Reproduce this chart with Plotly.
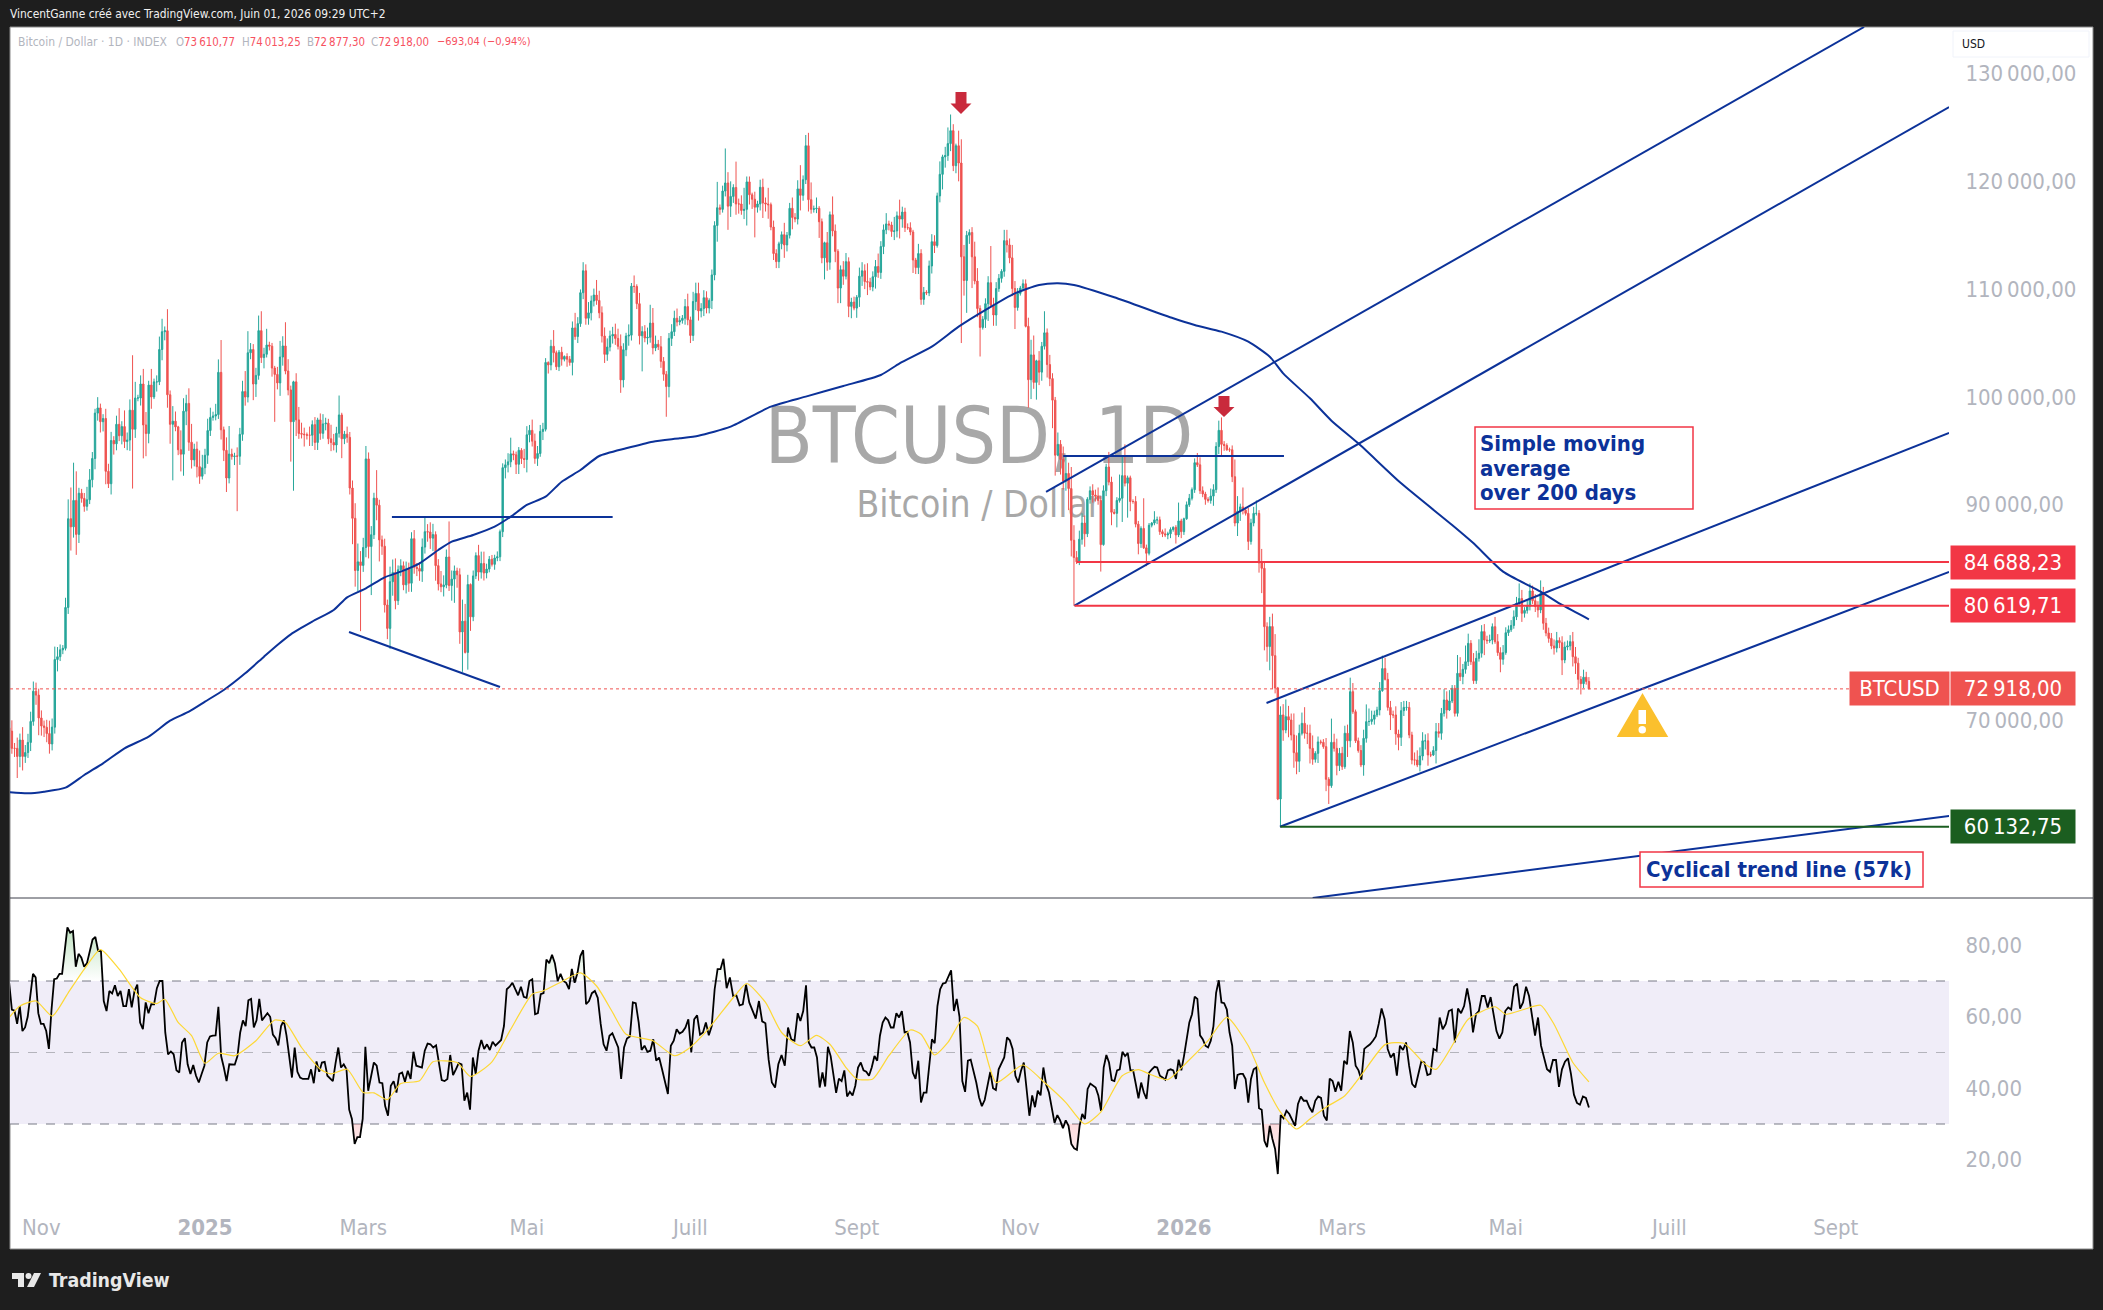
import numpy as np
import pandas as pd
import plotly.graph_objects as go

# ---------- data ----------
first_day = "2024-10-20"
close_usd = [
 # 2024-10 (from the 20th)
 69000,67400,67400,66650,68170,66650,67010,67950,69900,72700,72340,70220,
 # 2024-11
 69480,69350,68770,67810,69370,75640,75900,76540,76680,80470,88700,87950,90400,87250,91070,90590,89850,90460,92310,94290,98500,98980,97700,98000,93100,91950,95960,95650,97460,96400,
 # 2024-12
 97250,95860,96000,98770,97000,99900,99900,101200,97400,96600,101100,100000,101400,101400,104400,106050,106140,100200,97460,97750,97220,95100,94690,98680,99400,95800,94160,95160,93530,92640,93430,
 # 2025-01
 94590,96880,98100,98230,98360,102280,96950,95050,92480,94700,94480,94520,94500,96530,100500,99990,104100,104400,101200,102000,106150,103650,103960,104820,104710,102680,102090,101300,103700,104730,102400,
 # 2025-02
 100650,97700,101400,97870,96610,96550,96500,96450,96450,97430,95780,97870,96620,97500,97570,96120,95770,95540,96630,98330,96120,96550,96250,91550,88740,83900,84700,84370,
 # 2025-03
 86030,94250,86120,87220,90610,89960,86740,86150,80700,78530,82860,83720,81100,83970,84340,82570,84030,82720,86850,84200,84080,83840,86070,87500,87470,86900,87230,84350,82650,82390,82550,
 # 2025-04
 85150,82500,83100,83860,83500,78200,79200,76300,82600,79600,83400,85280,83750,84550,83670,84030,84940,84470,85060,85170,87500,93440,93700,93980,94720,94630,93750,95050,94280,94200,
 # 2025-05
 96490,96900,95900,94300,94750,96800,97000,103200,102970,104700,104100,102800,104150,103500,103750,103500,103200,106400,105600,106800,109670,111700,107300,107800,108900,109450,108950,107800,105650,103950,104630,
 # 2025-06
 105650,105800,105430,104700,101580,104380,105650,105730,110270,110250,108650,105670,106060,105470,105530,106850,104550,104890,104650,103300,102100,100960,105430,106050,107300,106950,107100,107300,108380,107150,
 # 2025-07
 105700,108850,109600,107980,108200,109200,108250,108950,111320,115900,117550,117400,119100,119850,117700,118600,119430,117900,117900,117300,117400,119950,118750,118340,117600,117900,119450,118000,117900,117830,115760,
 # 2025-08
 113300,112550,114200,115050,114100,115000,117500,116650,116500,119300,118700,120150,123300,118300,117400,117450,117500,116250,112900,114300,112500,116900,115400,113500,110100,111800,111200,112550,108400,108800,108240,
 # 2025-09
 109250,111200,111700,110700,110650,110200,111150,112100,111550,113950,115500,116050,115950,115350,115400,116800,116500,117150,115700,115700,115300,112700,112000,113300,109050,109700,109650,112150,114400,114050,
 # 2025-10
 118650,120650,122270,122400,123500,124700,121450,123300,121700,113000,110800,115000,115250,113000,110750,108200,106450,107200,108650,110600,108500,107600,110050,111000,111650,114500,114100,112900,110050,108300,109600,
 # 2025-11
 110100,110500,106550,101600,103900,101350,103350,102300,104700,105950,103000,101700,99700,94600,95600,94200,92200,92900,91500,86700,85100,84700,86800,88300,87300,90500,91300,90900,90800,90400,
 # 2025-12
 86300,91300,93500,92100,89300,89200,90400,90600,92700,92000,92500,90300,90300,88200,86400,87800,86000,85500,88100,88300,88600,88600,87500,87300,87200,87300,87700,87900,87200,88500,87500,
 # 2026-01
 88700,90000,90600,91400,93900,93700,91300,91000,90500,90400,90800,91400,95400,96900,95600,95500,95100,95100,92600,88300,89400,89800,89500,89200,86600,88300,89200,89200,84600,84100,78690,
 # 2026-02
 76840,78700,76000,73000,62700,70500,69100,70340,70030,68640,67000,66200,68800,69720,68800,68800,67400,66380,66940,68000,67960,67560,64530,63940,67960,67400,65800,66940,
 # 2026-03
 65700,68800,68100,72660,70800,68100,67200,65860,68330,69880,69900,70100,70500,70960,72750,74800,73800,71200,70500,70500,68730,68420,70900,71200,71200,68640,66320,66320,65860,66690,68100,
 # 2026-04
 68100,66790,66790,67200,68950,68800,70650,71890,70960,71800,72970,70650,74360,74050,74730,75440,77140,75440,73680,75750,76220,78230,77450,77390,77450,78690,77300,76280,75660,76280,
 # 2026-05
 78130,78400,78800,79600,80850,81300,79930,80200,80600,82000,81100,80550,80240,81780,79000,78100,77600,76900,76700,77400,77200,75600,76800,76900,77300,75900,75300,73800,73400,74000,73610.77,
 # 2026-06
 72918,
]
first_open_usd = 69300
# upper wick of each candle, in hundreds of dollars
wick_up = [
 7,10,5,10,6,12,7,8,9,9,8,6,
 7,5,7,12,8,12,9,5,3,9,18,29,35,27,5,4,5,12,10,6,4,10,4,4,9,7,8,4,8,15,
 5,15,7,10,51,15,3,8,14,12,4,15,3,6,12,12,4,20,4,14,9,1,18,12,8,14,17,5,7,15,12,
 6,11,9,4,10,12,30,3,12,26,5,3,8,6,10,19,20,6,5,7,14,18,6,15,3,3,2,7,15,9,22,
 11,4,1,8,12,10,6,2,8,4,7,2,6,9,5,4,13,8,6,18,2,3,7,5,7,14,17,10,
 9,12,6,8,5,26,5,4,7,5,14,12,13,4,6,4,7,6,6,8,4,6,8,13,7,9,10,3,6,12,9,
 7,33,8,5,3,6,20,16,9,1,5,3,10,11,11,5,3,4,3,5,2,4,5,8,15,3,3,3,2,9,
 8,5,10,7,7,6,6,4,1,6,15,2,2,5,1,3,3,6,14,6,3,8,6,10,5,6,14,9,6,8,8,
 5,7,10,9,11,6,3,10,3,10,2,10,5,6,9,17,14,8,4,10,4,3,5,7,7,9,4,3,7,12,
 3,9,10,10,5,7,6,2,5,4,24,3,5,32,10,14,3,24,5,8,20,5,5,2,7,3,7,8,5,15,2,
 6,4,2,3,11,3,5,10,4,8,22,4,10,12,16,3,10,2,3,1,10,3,17,6,2,4,8,8,4,4,5,
 2,8,8,6,17,4,5,6,12,5,5,10,3,3,13,4,15,5,4,4,5,2,2,9,4,5,2,5,7,6,
 3,12,2,8,15,15,6,2,14,22,11,4,3,5,14,12,3,3,5,6,34,7,6,4,2,10,10,6,12,7,5,
 2,4,4,8,14,18,1,9,4,20,4,9,5,3,11,4,12,16,10,20,14,6,8,9,7,2,4,6,5,8,
 4,5,3,14,5,3,3,22,19,29,2,2,2,5,3,2,28,3,2,1,8,3,3,2,5,2,2,1,2,17,2,
 1,3,4,2,4,9,7,4,2,2,7,5,4,9,12,3,2,2,4,16,14,3,18,3,5,4,6,12,3,13,6,
 4,9,12,20,1,8,10,16,10,6,20,16,8,10,15,8,8,12,2,5,2,3,8,2,22,8,9,5,
 6,7,8,13,8,2,3,5,8,16,12,8,4,3,8,12,10,6,6,4,8,4,8,6,6,5,3,7,9,8,8,
 6,7,3,4,8,8,5,10,8,10,3,3,17,15,5,15,9,3,8,7,13,6,7,4,5,3,9,7,5,7,
 5,4,5,6,6,14,8,3,5,7,5,6,5,12,6,5,5,5,6,8,3,6,5,5,6,9,9,5,3,7,5,
 4.02,
]
# lower wick of each candle, in hundreds of dollars
wick_down = [
 6,5,8,20,10,13,6,5,8,4,9,16,
 9,9,8,9,6,6,11,4,4,2,6,22,10,19,8,4,5,4,4,7,10,7,10,9,12,4,10,10,6,5,
 8,6,8,10,55,8,3,7,31,21,9,11,2,9,3,10,8,12,18,52,4,5,16,20,13,8,8,6,10,7,3,
 6,8,5,3,4,4,9,10,13,5,3,8,51,8,6,8,5,6,15,12,4,5,10,3,4,8,44,6,12,8,3,
 5,37,64,15,5,4,11,4,10,10,7,7,6,5,6,5,8,5,7,4,18,5,5,6,24,15,19,61,
 6,9,11,45,4,14,20,8,7,10,19,13,8,4,6,5,8,8,8,6,7,9,10,6,9,10,12,14,6,5,9,
 3,5,14,22,12,11,37,1,16,13,4,3,8,6,7,5,3,2,5,3,4,5,10,7,5,5,9,9,5,8,
 12,7,5,5,7,3,8,2,8,5,9,3,4,6,2,7,3,12,3,6,3,6,6,6,7,5,4,5,6,8,6,
 4,7,6,3,12,7,6,9,5,6,5,8,33,4,6,5,6,3,3,6,6,28,10,7,4,4,3,3,6,5,
 7,5,8,9,6,7,5,5,8,5,15,5,3,5,22,10,6,10,9,4,8,15,9,9,28,5,6,14,7,13,3,
 6,6,6,5,12,6,3,11,3,5,14,5,4,11,4,3,4,15,5,20,8,7,5,10,14,14,8,3,10,11,2,
 9,9,9,7,12,3,4,11,5,6,7,4,5,5,8,6,18,8,4,2,3,12,6,6,5,5,2,3,7,7,
 2,6,14,10,5,7,5,7,17,80,14,30,8,29,3,8,27,2,8,16,2,10,10,3,4,5,7,5,7,20,3,
 2,3,1,26,18,6,16,12,8,3,12,7,26,19,1,14,8,9,20,15,44.8,2,3,5,12,3,4,7,5,4,
 25,1,5,3,12,1,13,2,22,3,32,9,2,3,10,4,1,12,2,2,2,4,3,3,2,4,4,2,8,2,6,
 3,1,2,2,3,2,3,3,5,2,3,9,3,7,10,5,1,2,5,3,12,9,4,2,8,3,3,2,9,23,22,
 14,22,31,5,1,25.67,10,3,16,5,14,12,10,2,5,10,14,5,3,9,2,2,11,17,2,3,9,5,
 3,2,15,6,2,2,2,2,10,4,4,3,5,2,5,1,1,3,14,3,10,12,8,5,3,3,4,5,2,6,4,
 8,10,2,1,12,4,6,3,8,1,2,3,3,4,7,4,4,3,3,3,3,4,14,3,2,4,2,3,12,5,
 2,3,2,3,3,3,8,4,3,4,3,5,7,3,6,3,4,3,6,4,5,14,3,3,4,9,10,8,10,4,3,
 0.41,
]

# 200-day simple moving average, read every few days (days counted from 2025-01-01)
sma_days = [-73,-66,-60,-52,-45,-38,-30,-21,-13,-6,0,7,15,22,27,32,40,48,53,60,67,73,80,87,92,100,108,114,120,127,133,140,147,157,167,177,184,
            196,211,224,238,252,259,271,281,292,302,311,318,324,339,361,369,379,389,397,402,412,420,430,446,465,473,484,498,506,516]
sma_usd = [63323,63230,63385,63756,64931,66014,67405,68487,69971,70806,71733,72816,74362,75908,76990,77979,79154,80236,81411,82246,83267,83792,84565,85802,86575,87193,87966,88894,89976,90749,92140,93223,94521,95233,95851,96160,96408,
           97244,99099,100027,101016,102037,103119,104665,106520,108220,109612,110385,110539,110385,109241,107293,106675,106056,105128,103737,102191,99872,97800,95696,91986,88121,86420,83792,81937,80700,79371]

# RSI, day by day, in two stretches
rsi_a = [69.5,62,61.7,58,63,56,57,60,66,72,71,61,58,58,56,51,62,70.5,70.7,72,72,78,85,83.5,84,74,77.6,76.5,74,75,78,81.6,82.3,78.4,78.4,64.4,61.6,67.2,66.5,68.8,65.8,67.2,63,63,67.7,62.6,67.2,69,58.4,56.5,64,61,63.5,63.5,68,70,70,55.6,49.5,50.3,49.5,45,44.4,52.8,54,46.7,44,46.5,43.5,41.6,44,46.3,52.8,54.5,54.7,54.8,62.8,49,45.8,42,46.7,46.6,46.6,49,55.6,59,57.4,64.6,65,57,59,65,59,60,61,60,55,54,52,57.4,59,54.7,48,43,51.4,44.6,43,42.6,42.6,42.6,45.3,41.4,47.5,44.6,47.2,47.4,43.5,42.6,42,47,51.4,45.8,46.7,45.3,34,31.4,24.4,26.3,26.3,31.4,51.6,39.3,43,47.2,46.3,41.6,41.4,35,32.3,40.7,42,38.8,44,44.4,41.8,44.9,42.6,50.2,46.3,46,45.8,50.5,52.5,52.3,51.4,52,47.2,42.3,42,42.6,49.3,43.7,45.3,47,46.7,36.5,38.8,34,48.6,44,50.5,53.5,51,52.3,50.7,53,51.9,52.8,53.5,57.4,67.7,68.4,69.5,67.7,66,68.4,65.6,65.3,70,70.5,60.7,61,66.3,66.6,76,75,77.3,75,70,72,70,69.5,67.7,73.4,69.5,72.3,77,78.6,63.5,64.4,66.6,67.2,65.3,58,52.3,50.5,54.7,55.4,53.3,51.4,42.6,51.4,53.9,54.5,64,63.8,58.4,50.7,51.9,50.2,50.5,53.7,47.7,48.6,45.3,41.6,38.4,51.9,53.3,56.5,55.3,55.8,57,59.3,50,59.3,60.4,55,55.6,58.4,54.8,57.4,67.7,73.3,73.3,76.2,68,71,65.8,66,63.2,63.5,69,64,62,59.5,64.4,58.7,58.2,48,41.6,40.2,46.7,49.3,46.3,57,53.7,53.3,61]
rsi_b = [58.8,61.6,68.8,52.8,51.4,51.4,48.6,40.2,44.4,40.5,51.6,49,43.5,38.7,42.7,42,45,37.7,39,38,40.7,45.8,47.2,45,44.6,43.5,45.8,49,47.7,54.7,58.4,59.8,59,57,57,61,59.8,61.6,55.6,55.8,52.8,44.4,42.6,47.7,36,38.8,38.8,47.2,53.7,52.6,63,67.7,69.3,69.5,71.4,73,61.6,65,60,42,39,47.7,48,44.9,41.6,37.4,35,36.7,40.7,44.6,40,39.5,45.3,47.2,48.6,54.2,53.4,51,43.5,41.6,44.9,47.2,40.2,32.3,38,34.7,39.3,38,45.8,41,38.8,34,30.3,32.5,31,28.8,31,29.5,24.4,23.2,22.8,29.5,32.8,31.4,39.8,41.3,40.7,40.2,38,33.7,45.8,49.3,47.2,42.3,42,45,45.3,50.2,49,49.8,45,45,41.2,37.2,41.6,38.8,37,44.4,45.3,46,45.8,43.5,43,42.4,45,45.3,45,42.6,48,45,49,54.2,58.4,60.7,65.6,65,54.8,53.7,51.9,51.4,53.3,57.4,66.7,70.2,64,63.8,62,55.6,51.9,39.8,43.7,44,44,42.6,36,42.6,45.3,45.8,34.4,34,25.3,23.5,29.5,25.8,23,16,32.5,31.6,33.7,32.8,31,29.5,35.6,37.7,36.5,36.5,34.6,33.3,36.5,37.7,37.3,32.3,31,42.7,42,39,41.8,39.3,47.7,46.7,56,52.8,46.3,45,42.4,51,51.7,52.3,53.3,54.5,58,62.3,59.3,51,48.6,49.8,43.5,51.9,50.7,52.8,46.3,41.2,40.2,43.5,47.5,47.2,43.7,44,51,50.5,59.8,56.5,58,61.6,62,52.8,62.3,61,63,67.9,63.5,55.6,60.7,61.6,65.8,65.8,62.6,65.5,60.2,56,53.9,55.6,61.6,62.6,62,68.4,69.3,62.3,64,68.4,65.8,59.8,54.7,59.8,51.9,48.6,45.3,44.6,47.9,47.9,40.4,45.3,47.4,48.4,44,38.2,35.9,35.4,37.7,37.3,34.6]
# turning points of the RSI and the day each one falls on (days from 2025-01-01)
rsi_a_marks = {85: -51.3, 62.8: 5, 24.4: 55.8, 51.6: 59.8, 78.6: 141, 76.2: 193.3}
rsi_b_marks = {68.8: 224.1, 73: 278.2, 22.8: 325.1, 70.2: 378, 16: 400, 62.3: 438.7, 67.9: 470.6, 68.4: 488.1}
# moving average of the RSI, read every few days (days counted from 2025-01-01)
rsi_ma_days = [-73,-69,-63,-57,-51,-45,-39,-32,-24,-18,-15,-10,-5,0,5,11,19,26,30,36,43,47,53,59,63,68,73,80,85,94,99,107,114,122,126,133,140,146,152,157,167,175,180,187,198,202,209,215,222,228,233,239,243,249,255,263,267,272,277,283,288,295,305,313,321,328,334,342,348,353,359,366,374,381,389,395,401,407,412,418,425,431,440,447,455,459,465,471,481,485,492,498,503,510,516]
rsi_ma = [59.8,63,64.4,60.2,66.7,73.3,78.8,73.3,65.3,63.7,64.9,58.4,54.7,47,49.8,49.1,53.3,59.1,58.4,51.4,45.3,44,45.3,38.8,38.7,36.8,41.3,42.1,47.4,47.2,43.3,47.4,56.5,66.3,67.2,69.8,72.3,68.6,61.2,55.1,53.3,49.1,50.9,56,66.3,69.3,64,55.6,51.9,54.8,52.3,45.8,42.6,42.6,49.1,56.3,55.1,49.3,52.8,59.8,57.4,41.6,46.5,41.6,36,30,33.3,43.5,45.2,43.7,42.4,47.2,53.3,59.8,51.9,41.6,33.3,28.6,31.4,34.7,37.9,43.5,52.2,52.6,46.7,45.3,51.9,59.3,62.8,60.7,62.1,63.2,57.9,47.2,41.8]

# hand-drawn levels and trend lines
level_prices = [84688.23, 80619.71, 60132.75]
level_start_days = [325, 324.2, 401]
last_price = 72918.00
wedge_low_days, wedge_low_usd = [53.7, 110], [78194, 73092]
neck_a_days, neck_a_usd = [69.7, 152], [88862, 88862]
neck_b_days, neck_b_usd = [320, 402.3], [94521, 94521]
chan1_up_days, chan1_up_usd = [313.6, 618.6], [91182, 134317]
chan1_lo_days, chan1_lo_usd = [324.2, 650.3], [80634, 126896]
chan2_up_days, chan2_up_usd = [395.8, 650.3], [71608, 96655]
chan2_lo_days, chan2_lo_usd = [400.8, 650.3], [60132, 83760]
cyclical_days, cyclical_usd = [413, 650.3], [53519, 61126]

price_ticks = [130000, 120000, 110000, 100000, 90000, 70000]
price_tick_text = ["130\u2009000,00", "120\u2009000,00", "110\u2009000,00", "100\u2009000,00", "90\u2009000,00", "70\u2009000,00"]
rsi_ticks = [80, 60, 40, 20]
rsi_tick_text = ["80,00", "60,00", "40,00", "20,00"]
time_ticks = ["2024-11-01", "2025-01-01", "2025-03-01", "2025-05-01", "2025-07-01", "2025-09-01", "2025-11-01", "2026-01-01", "2026-03-01", "2026-05-01", "2026-07-01", "2026-09-01"]
time_tick_text = ["Nov", "<b>2025</b>", "Mars", "Mai", "Juill", "Sept", "Nov", "<b>2026</b>", "Mars", "Mai", "Juill", "Sept"]

# ---------- derived ----------
assert len(close_usd) == 590 and len(wick_up) == 590 and len(wick_down) == 590, (len(close_usd), len(wick_up), len(wick_down))
assert len(sma_days) == len(sma_usd) and len(rsi_ma_days) == len(rsi_ma), (len(sma_days), len(sma_usd), len(rsi_ma_days), len(rsi_ma))

BASE = pd.Timestamp("2025-01-01")
def day(values):
    return [BASE + pd.Timedelta(days=float(v)) for v in values]

dates = pd.date_range(first_day, periods=len(close_usd), freq="D")
close_arr = np.array(close_usd, float)
open_arr = np.r_[first_open_usd, close_arr[:-1]]
high_arr = np.maximum(open_arr, close_arr) + np.array(wick_up, float) * 100
low_arr = np.minimum(open_arr, close_arr) - np.array(wick_down, float) * 100

def rsi_positions(values, marks, first, last):
    idx = [0] + [values.index(v) for v in marks] + [len(values) - 1]
    when = [first] + list(marks.values()) + [last]
    return np.interp(np.arange(len(values)), idx, when)

rsi_days = np.r_[rsi_positions(rsi_a, rsi_a_marks, -73, 221), rsi_positions(rsi_b, rsi_b_marks, 222, 516)]
rsi_dates = day(rsi_days)
rsi_all = np.array(rsi_a + rsi_b, float)

# ---------- page geometry ----------
W, H = 2103, 1310
L, R, T, B = 10, 1949, 27, 1205
FONT = "DejaVu Sans Condensed, DejaVu Sans, sans-serif"
def px(x): return (x - L) / (R - L)
def py(y): return (B - y) / (B - T)

BLUE = "#0C3299"; RED = "#F23645"; GREEN = "#1B5E20"; CANDLE_UP = "#26A69A"; CANDLE_DOWN = "#EF5350"
x_range = day([-72.7, 650.26])
y_range = [53519, 134317]
rsi_range = [7.34, 92.94]

fig = go.Figure()

# watermark sits on the base axes so the candles on the overlay axes cover it
fig.add_trace(go.Scatter(x=day([288.6]), y=[95726], mode="text", text=["BTCUSD, 1D"], textposition="middle center",
                         textfont=dict(family=FONT, size=78, color="#A8A8A8"), hoverinfo="skip", showlegend=False, xaxis="x", yaxis="y"))
fig.add_trace(go.Scatter(x=day([288.6]), y=[89700], mode="text", text=["Bitcoin / Dollar"], textposition="middle center",
                         textfont=dict(family=FONT, size=37, color="#A8A8A8"), hoverinfo="skip", showlegend=False, xaxis="x", yaxis="y"))

fig.add_trace(go.Candlestick(x=dates, open=open_arr, high=high_arr, low=low_arr, close=close_arr,
                             increasing=dict(line=dict(color=CANDLE_UP, width=1), fillcolor=CANDLE_UP),
                             decreasing=dict(line=dict(color=CANDLE_DOWN, width=1), fillcolor=CANDLE_DOWN),
                             whiskerwidth=0, hoverinfo="skip", showlegend=False, xaxis="x", yaxis="y3"))

def line(xs, ys, color=BLUE, width=2, dash="solid", yaxis="y3", smooth=False):
    style = dict(color=color, width=width, dash=dash)
    if smooth:
        style.update(shape="spline", smoothing=0.6)
    fig.add_trace(go.Scatter(x=xs, y=ys, mode="lines", line=style,
                             hoverinfo="skip", showlegend=False, xaxis="x", yaxis=yaxis))

line(day(sma_days), sma_usd, smooth=True)
for d, u in [(wedge_low_days, wedge_low_usd), (neck_a_days, neck_a_usd), (neck_b_days, neck_b_usd),
             (chan1_up_days, chan1_up_usd), (chan1_lo_days, chan1_lo_usd),
             (chan2_up_days, chan2_up_usd), (chan2_lo_days, chan2_lo_usd), (cyclical_days, cyclical_usd)]:
    line(day(d), u)
for price, start, col in zip(level_prices, level_start_days, [RED, RED, GREEN]):
    line(day([start, 650.26]), [price, price], color=col)
line(x_range, [last_price, last_price], color=CANDLE_DOWN, width=1, dash="dot")

# RSI pane
fig.add_trace(go.Scatter(x=rsi_dates, y=[70] * len(rsi_all), mode="lines", line=dict(width=0), hoverinfo="skip", showlegend=False, xaxis="x", yaxis="y4"))
fig.add_trace(go.Scatter(x=rsi_dates, y=np.maximum(rsi_all, 70), mode="lines", line=dict(width=0), fill="tonexty",
                         fillgradient=dict(type="vertical", start=70, stop=85, colorscale=[[0, "rgba(76,175,80,0)"], [1, "rgba(76,175,80,0.35)"]]),
                         hoverinfo="skip", showlegend=False, xaxis="x", yaxis="y4"))
fig.add_trace(go.Scatter(x=rsi_dates, y=[30] * len(rsi_all), mode="lines", line=dict(width=0), hoverinfo="skip", showlegend=False, xaxis="x", yaxis="y4"))
fig.add_trace(go.Scatter(x=rsi_dates, y=np.minimum(rsi_all, 30), mode="lines", line=dict(width=0), fill="tonexty",
                         fillgradient=dict(type="vertical", start=30, stop=16, colorscale=[[0, "rgba(242,54,69,0.18)"], [1, "rgba(242,54,69,0.02)"]]),
                         hoverinfo="skip", showlegend=False, xaxis="x", yaxis="y4"))
line(rsi_dates, rsi_all, color="#000000", width=1.8, yaxis="y4")
line(day(rsi_ma_days), rsi_ma, color="#FDD835", width=1.2, yaxis="y4", smooth=True)

# ---------- shapes ----------
def rect(x0, y0, x1, y1, fill, line_color=None, lw=0, layer="above"):
    return dict(type="rect", xref="paper", yref="paper", x0=px(x0), x1=px(x1), y0=py(y0), y1=py(y1),
                fillcolor=fill, line=dict(color=line_color or fill, width=lw), layer=layer)
def path(points, fill, line_color=None, lw=0, layer="above"):
    d = "M " + " L ".join(f"{px(a):.6f},{py(b):.6f}" for a, b in points) + " Z"
    return dict(type="path", xref="paper", yref="paper", path=d, fillcolor=fill,
                line=dict(color=line_color or fill, width=lw), layer=layer)
def down_arrow(cx, top, bottom):
    neck = bottom - (bottom - top) * 0.48
    return path([(cx - 5.5, top), (cx + 5.5, top), (cx + 5.5, neck), (cx + 10.5, neck), (cx, bottom), (cx - 10.5, neck), (cx - 5.5, neck)], "#C92A3C")

shapes = [
    rect(10, 27, 2093, 1249, "#FFFFFF", "#8A8A8A", 1, layer="below"),
    dict(type="rect", xref="paper", yref="y4", x0=0, x1=1, y0=30, y1=70, fillcolor="#F0EDF8", line=dict(width=0), layer="below"),
    dict(type="line", xref="paper", yref="y4", x0=0, x1=1, y0=70, y1=70, line=dict(color="#787B86", width=1, dash="dash"), layer="below"),
    dict(type="line", xref="paper", yref="y4", x0=0, x1=1, y0=50, y1=50, line=dict(color="#B4B4BC", width=1, dash="dash"), layer="below"),
    dict(type="line", xref="paper", yref="y4", x0=0, x1=1, y0=30, y1=30, line=dict(color="#787B86", width=1, dash="dash"), layer="below"),
    dict(type="line", xref="paper", yref="paper", x0=px(10), x1=px(2093), y0=py(898), y1=py(898), line=dict(color="#3C3F4A", width=1)),
    down_arrow(961, 92, 114),
    down_arrow(1224, 396, 417),
    rect(1475, 427, 1693, 509, "rgba(255,255,255,0)", RED, 1.5),
    rect(1640, 852, 1923, 887, "#FFFFFF", RED, 1.5),
    # warning sign
    path([(1642.5, 699), (1663, 734), (1622, 734)], "#FBC02D", "#FBC02D", 6),
    rect(1638.5, 710, 1646, 724, "#FFFFFF"),
    dict(type="circle", xref="paper", yref="paper", x0=px(1638.5), x1=px(1646), y0=py(726), y1=py(733.5), fillcolor="#FFFFFF", line=dict(width=0)),
    # "USD" pill
    rect(1953, 31, 2089, 57, "#FFFFFF", "#F0F3FA", 1),
    # TradingView mark
    path([(12, 1273), (24, 1273), (24, 1287), (18, 1287), (18, 1279), (12, 1279)], "#E8E8E8"),
    dict(type="circle", xref="paper", yref="paper", x0=px(25.5), x1=px(31.5), y0=py(1273), y1=py(1279), fillcolor="#E8E8E8", line=dict(width=0)),
    path([(34, 1273), (41, 1273), (34, 1287), (27, 1287)], "#E8E8E8"),
]

# ---------- text ----------
def note(x, y, text, size, color, anchor="left"):
    return dict(xref="paper", yref="paper", x=px(x), y=py(y), text=text, showarrow=False, xanchor=anchor, yanchor="middle",
                font=dict(family=FONT, size=size, color=color), align="left", borderpad=0, borderwidth=0)
def price_tag(price, text, color, x0=1950, width=124):
    return dict(xref="paper", yref="y", x=px(x0), y=price, text=text, showarrow=False, xanchor="left", yanchor="middle",
                width=width, height=33, bgcolor=color, borderpad=0, align="center",
                font=dict(family=FONT, size=22, color="#FFFFFF"))

GR = "#B2B5BE"; RD = "#F7525F"
def pair(letter, value):
    return f'<span style="color:{GR}">{letter}</span><span style="color:{RD}">{value}</span>'

annotations = [
    note(10, 14, "VincentGanne créé avec TradingView.com, Juin 01, 2026 09:29 UTC+2", 11.9, "#F0F0F0"),
    note(18, 42, "Bitcoin / Dollar · 1D · INDEX", 12, GR),
    note(176, 42, pair("O", "73\u2009610,77"), 11.4, GR),
    note(241.5, 42, pair("H", "74\u2009013,25"), 11.4, GR),
    note(307, 42, pair("B", "72\u2009877,30"), 11.4, GR),
    note(371, 42, pair("C", "72\u2009918,00"), 11.4, GR),
    note(436.6, 42, "−693,04 (−0,94%)", 11, RD),
    note(1962, 44, "USD", 12, "#131722"),
    note(1480, 444, "<b>Simple moving</b>", 22, BLUE),
    note(1480, 468, "<b>average</b>", 22, BLUE),
    note(1480, 492, "<b>over 200 days</b>", 22, BLUE),
    note(1646, 869, "<b>Cyclical trend line (57k)</b>", 22, BLUE),
    note(49, 1280, "<b>TradingView</b>", 19.4, "#E8E8E8"),
    price_tag(level_prices[0], "84\u2009688,23", RED),
    price_tag(level_prices[1], "80\u2009619,71", RED),
    price_tag(last_price, "72\u2009918,00", CANDLE_DOWN),
    price_tag(last_price, "BTCUSD", CANDLE_DOWN, x0=1849, width=99),
    price_tag(level_prices[2], "60\u2009132,75", GREEN),
]

axis_font = dict(family=FONT, size=22, color=GR)
fig.update_layout(
    width=W, height=H, autosize=False,
    margin=dict(l=L, r=W - R, t=T, b=H - B, pad=0),
    paper_bgcolor="#1E1E1E", plot_bgcolor="rgba(0,0,0,0)",
    showlegend=False, boxmode="overlay", boxgap=0.25,
    shapes=shapes, annotations=annotations,
    xaxis=dict(domain=[0, 1], anchor="y4", range=x_range, type="date", rangeslider=dict(visible=False), showgrid=False, zeroline=False,
               tickmode="array", tickvals=time_ticks, ticktext=time_tick_text, tickfont=axis_font,
               ticks="outside", ticklen=3, tickcolor="rgba(0,0,0,0)", showline=False),
    yaxis=dict(domain=[(B - 898) / (B - T), 1], anchor="x", side="right", range=y_range, showgrid=False, zeroline=False,
               tickmode="array", tickvals=price_ticks, ticktext=price_tick_text, tickfont=axis_font,
               ticks="outside", ticklen=11, tickcolor="rgba(0,0,0,0)", showline=False),
    yaxis3=dict(overlaying="y", side="right", range=y_range, visible=False, showgrid=False, zeroline=False, anchor="x"),
    yaxis4=dict(domain=[0, (B - 899) / (B - T)], anchor="x", side="right", range=rsi_range, showgrid=False, zeroline=False,
                tickmode="array", tickvals=rsi_ticks, ticktext=rsi_tick_text, tickfont=axis_font,
                ticks="outside", ticklen=11, tickcolor="rgba(0,0,0,0)", showline=False),
)

fig.write_html("out.html", config=dict(displayModeBar=False),
               post_script="document.body.style.margin='0';document.body.style.overflow='hidden';")
